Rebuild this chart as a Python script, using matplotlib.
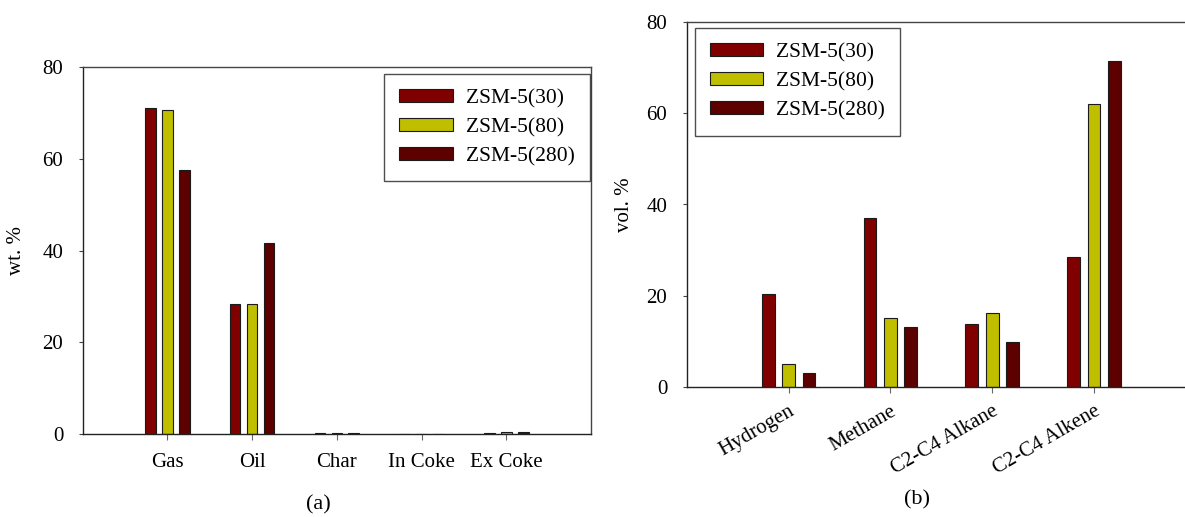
import numpy as np
import matplotlib.pyplot as plt

plt.rcParams['font.family'] = ['Liberation Serif', 'DejaVu Serif']

# (a) product yields, wt. %
cats_a = ['Gas', 'Oil', 'Char', 'In Coke', 'Ex Coke']
zsm30_a = [71.1, 28.3, 0.2, 0.0, 0.3]
zsm80_a = [70.6, 28.3, 0.2, 0.0, 0.6]
zsm280_a = [57.5, 41.6, 0.2, 0.0, 0.6]

# (b) gas composition, vol. %
cats_b = ['Hydrogen', 'Methane', 'C2-C4 Alkane', 'C2-C4 Alkene']
zsm30_b = [20.4, 37.0, 13.8, 28.5]
zsm80_b = [5.1, 15.2, 16.3, 61.9]
zsm280_b = [3.2, 13.2, 9.9, 71.5]

series = ['ZSM-5(30)', 'ZSM-5(80)', 'ZSM-5(280)']
colors = ['#800000', '#bfbf00', '#5c0000']

W, H = 1185, 517
fig = plt.figure(figsize=(W / 100, H / 100), dpi=100)


def box(x0, y0, x1, y1):
    # pixel box -> figure fraction rect
    return [x0 / W, (H - y1) / H, (x1 - x0) / W, (y1 - y0) / H]


ax1 = fig.add_axes(box(82.7, 66.7, 591, 434.3))
ax2 = fig.add_axes(box(686.7, 21.7, 1195.8, 387.3))

bw = 0.125
off = 0.2


def draw(ax, cats, vals, xlim):
    x = np.arange(len(cats))
    for i, (v, c, lab) in enumerate(zip(vals, colors, series)):
        ax.bar(x + (i - 1) * off, v, bw, color=c, edgecolor='#1a1a1a',
               linewidth=0.8, label=lab)
    ax.set_xlim(*xlim)
    ax.set_ylim(0, 80)
    ax.set_yticks([0, 20, 40, 60, 80])
    ax.set_xticks(x)
    for s in ax.spines.values():
        s.set_color('#444444')
        s.set_linewidth(1.0)
    ax.spines['bottom'].set_color('#222222')
    ax.spines['left'].set_color('#222222')
    ax.tick_params(axis='y', direction='out', length=3, width=0.8,
                   color='#444444', labelsize=15, pad=11)
    ax.tick_params(axis='x', direction='out', length=4.3, width=0.8,
                   color='#666666', labelsize=15)
    leg = ax.legend(loc='upper left', fontsize=15.5, frameon=True,
                    fancybox=False, handlelength=2.5, handleheight=0.55,
                    handletextpad=0.6, labelspacing=0.45, borderpad=0.7,
                    borderaxespad=0)
    leg.get_frame().set_edgecolor('#222222')
    leg.get_frame().set_linewidth(1.0)
    return leg


leg1 = draw(ax1, cats_a, [zsm30_a, zsm80_a, zsm280_a], (-1, 5))
leg1.set_bbox_to_anchor((0.593, 0.980), transform=ax1.transAxes)
ax1.set_xticklabels(cats_a)
ax1.tick_params(axis='x', pad=9)
ax1.set_ylabel('wt. %', fontsize=15)
ax1.yaxis.set_label_coords(-0.1115, 0.5)

leg2 = draw(ax2, cats_b, [zsm30_b, zsm80_b, zsm280_b], (-1, 4))
leg2.set_bbox_to_anchor((0.0155, 0.982), transform=ax2.transAxes)
ax2.set_xticklabels(cats_b, rotation=30, ha='right', rotation_mode='anchor')
ax2.tick_params(axis='x', pad=6)
ax2.set_ylabel('vol. %', fontsize=15)
ax2.yaxis.set_label_coords(-0.1035, 0.5)

fig.text(318 / W, 1 - 505 / H, '(a)', ha='center', va='center', fontsize=16)
fig.text(917 / W, 1 - 500 / H, '(b)', ha='center', va='center', fontsize=16)

fig.savefig('out.png', dpi=100)
